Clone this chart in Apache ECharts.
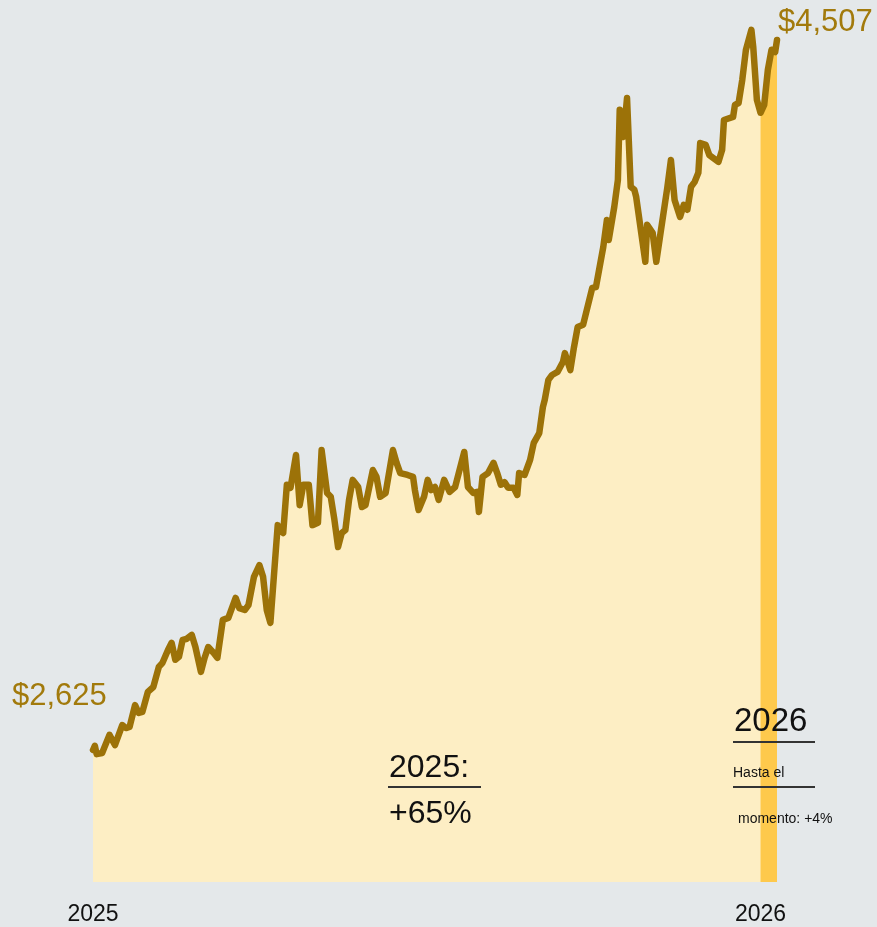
<!DOCTYPE html>
<html>
<head>
<meta charset="utf-8">
<script src="https://cdn.jsdelivr.net/npm/echarts@6/dist/echarts.min.js"></script>
<style>
  html, body { margin: 0; padding: 0; background: #e4e8ea; }
  #chart { width: 877px; height: 927px; }
</style>
</head>
<body>
<div id="chart"></div>
<script>
// days since 1 Jan 2025
const days = [
  0, 1, 2, 5, 9, 12, 16, 18, 20, 23, 25, 27, 30, 33, 36, 38, 41, 43, 45, 47,
  49, 51, 54, 56, 59, 61, 63, 66, 68, 71, 74, 78, 80, 83, 85, 88, 91, 93, 95, 97,
  101, 102, 104, 106, 108, 111, 113, 115, 118, 120, 123, 125, 128, 130, 132, 134, 136, 138, 140, 142,
  145, 147, 149, 153, 155, 157, 160, 164, 166, 168, 172, 175, 176, 178, 181, 183, 185, 187, 189, 192,
  195, 198, 203, 205, 208, 210, 211, 213, 216, 219, 221, 223, 225, 227, 230, 232, 233, 236, 239, 241,
  244, 246, 247, 249, 251, 254, 257, 258, 261, 263, 265, 268, 273, 275, 279, 281, 282, 285, 287, 288,
  290, 292, 294, 296, 297, 302, 303, 306, 308, 310, 314, 316, 318, 321, 323, 325, 327, 329, 331, 332,
  335, 337, 342, 344, 345, 350, 351, 353, 355, 357, 360, 361, 363, 365, 367, 369, 371, 372, 373, 374
];
// gold price, USD per ounce
const prices = [
  2625, 2636, 2614, 2617, 2665, 2638, 2691, 2683, 2686, 2744, 2723, 2726, 2779, 2792, 2845, 2856, 2890, 2909, 2864, 2872,
  2917, 2919, 2930, 2898, 2832, 2869, 2898, 2882, 2869, 2970, 2975, 3028, 3001, 2996, 3009, 3084, 3115, 3084, 2996, 2962,
  3221, 3208, 3200, 3328, 3320, 3407, 3274, 3328, 3328, 3221, 3227, 3420, 3306, 3296, 3235, 3163, 3200, 3208, 3288, 3341,
  3322, 3269, 3274, 3367, 3349, 3296, 3306, 3420, 3386, 3359, 3354, 3349, 3314, 3261, 3296, 3341, 3314, 3322, 3288, 3341,
  3309, 3322, 3415, 3322, 3306, 3309, 3256, 3349, 3359, 3386, 3359, 3328, 3335, 3320, 3320, 3301, 3359, 3354, 3394, 3439,
  3465, 3534, 3553, 3606, 3619, 3627, 3654, 3677, 3632, 3693, 3746, 3752, 3850, 3852, 3958, 4030, 3977, 4064, 4136, 4322,
  4250, 4353, 4118, 4110, 4091, 3919, 4017, 3996, 3919, 3985, 4115, 4189, 4083, 4038, 4070, 4057, 4118, 4131, 4155, 4234,
  4229, 4202, 4184, 4216, 4295, 4303, 4335, 4340, 4401, 4481, 4534, 4489, 4348, 4314, 4335, 4428, 4481, 4486, 4475, 4507
];
const yearTicks = { 0: '2025', 365: '2026' };
const yearStartDay = 365;

const all = days.map((d, i) => [d, prices[i]]);
const ytd = all.filter(p => p[0] >= yearStartDay);

const chart = echarts.init(document.getElementById('chart'), null, { renderer: 'canvas' });
const font = 'Liberation Sans, Arial, sans-serif';
const gold = '#9c7208';
const labelGold = '#a27a0c';

// annotations sit above the filled area
const txt = (left, top, text, size, fill) => ({
  type: 'text', left, top, z: 100,
  style: { text, fill: fill || '#111', font: size + 'px ' + font }
});
const rule = (x1, x2, y) => ({
  type: 'line', z: 100,
  shape: { x1, y1: y, x2, y2: y },
  style: { stroke: '#333', lineWidth: 2 }
});

chart.setOption({
  backgroundColor: '#e4e8ea',
  animation: false,
  grid: { left: 93, right: 100, top: 20, bottom: 45 },
  xAxis: {
    type: 'value',
    min: 0,
    max: 374,
    interval: 365,
    axisLine: { show: false },
    axisTick: { show: false },
    splitLine: { show: false },
    axisLabel: {
      showMaxLabel: false,
      margin: 21,
      color: '#111',
      fontFamily: font,
      fontSize: 23,
      formatter: v => yearTicks[v] || ''
    }
  },
  yAxis: {
    type: 'value',
    min: 2275,
    max: 4560,
    show: false
  },
  series: [
    {
      type: 'line',
      data: all,
      symbol: 'none',
      lineStyle: { width: 0 },
      areaStyle: { color: '#fdeec4', opacity: 1 },
      z: 1
    },
    {
      type: 'line',
      data: ytd,
      symbol: 'none',
      lineStyle: { width: 0 },
      areaStyle: { color: '#fec94c', opacity: 1 },
      z: 2
    },
    {
      type: 'line',
      data: all,
      symbol: 'none',
      lineStyle: { width: 6.5, color: gold, join: 'round', cap: 'round' },
      z: 3
    }
  ],
  graphic: [
    txt(12, 681, '$2,625', 31, labelGold),
    txt(778, 7, '$4,507', 31, labelGold),
    txt(389, 752, '2025:', 32),
    rule(388, 481, 787),
    txt(389, 798, '+65%', 32),
    txt(734, 705, '2026', 33),
    rule(733, 815, 742),
    txt(733, 766, 'Hasta el', 14),
    rule(733, 815, 787),
    txt(738, 812, 'momento: +4%', 14)
  ]
});
</script>
</body>
</html>
